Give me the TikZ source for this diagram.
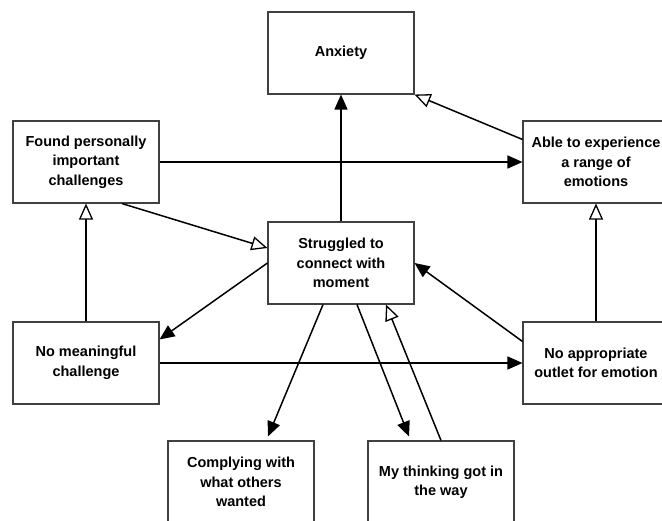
\documentclass[tikz,border=0pt]{standalone}
\usepackage{fontspec}
\setmainfont{Liberation Sans}
\usetikzlibrary{arrows.meta,calc}
\begin{document}
\begin{tikzpicture}[x=1pt,y=-1pt,
  box/.style={draw=black!75,line width=1.1pt,minimum width=146pt,minimum height=82pt,inner sep=0pt,align=center,font=\bfseries\fontsize{14.5}{19.5}\selectfont},
  fa/.style={line width=1.5pt,-{Triangle[length=15pt,width=13pt]}},
  oa/.style={line width=1.5pt,-{Triangle[open,length=16pt,width=14pt,line width=1.3pt]}}]
\useasboundingbox (0,0) rectangle (662,520);
\begin{scope}
\clip (0,0) rectangle (662,520);
\node[box] (anxiety) at (341,53) {Anxiety};
\node[box] (found) at (86,162) {Found personally\\important\\challenges};
\node[box] (able) at (596,162) {Able to experience\\a range of\\emotions};
\node[box] (struggled) at (341,263) {Struggled to\\connect with\\moment};
\node[box] (nomeaning) at (86,363) {No meaningful\\challenge};
\node[box] (noappro) at (596,363) {No appropriate\\outlet for emotion};
\node[box] (complying) at (241,482) {Complying with\\what others\\wanted};
\node[box] (thinking) at (441,482) {My thinking got in\\the way};
\end{scope}
\draw[fa] (struggled.north) -- (anxiety.south);
\draw[fa] (found.east) -- (able.west);
\draw[oa] ([yshift=-19pt]able.north west) -- (anxiety.south east);
\draw[oa] ([xshift=36pt]found.south) -- ([yshift=15pt]struggled.west);
\draw[fa] (struggled.west) -- ([yshift=-18pt]nomeaning.north east);
\draw[fa] ([yshift=-20pt]noappro.north west) -- (struggled.east);
\draw[fa] (nomeaning.east) -- (noappro.west);
\draw[oa] (nomeaning.north) -- (found.south);
\draw[oa] (noappro.north) -- (able.south);
\draw[fa] ([xshift=-18pt]struggled.south) -- ([xshift=27pt,yshift=4pt]complying.north);
\draw[fa] ([xshift=16pt]struggled.south) -- ([xshift=-32pt,yshift=4pt]thinking.north);
\draw[oa] (thinking.north) -- ([xshift=45pt]struggled.south);
\end{tikzpicture}
\end{document}
